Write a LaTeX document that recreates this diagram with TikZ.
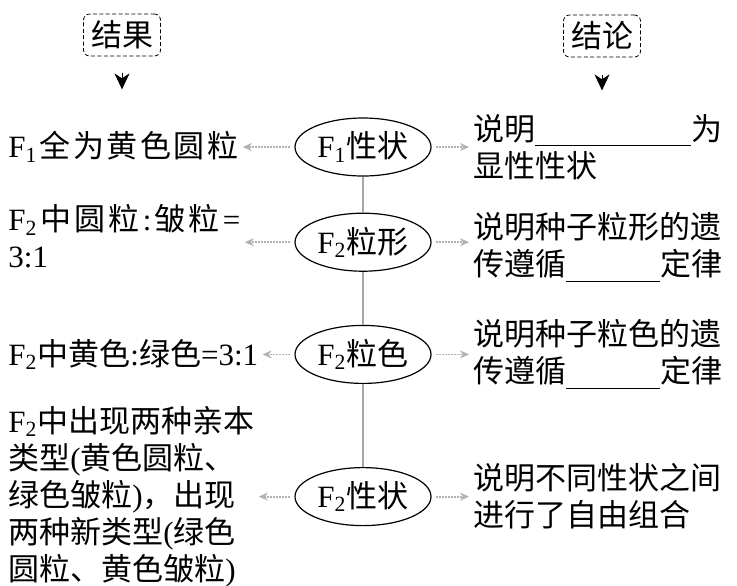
\documentclass[tikz,border=0pt]{standalone}
\usepackage{fontspec}
\newfontfamily\cjk{Noto Sans CJK SC}
\newfontfamily\latin{Liberation Serif}
\usepackage{tikz}
\usetikzlibrary{shapes.geometric, arrows.meta, positioning}
\newcommand{\lt}[1]{{\latin #1}}
\newcommand{\Fg}[1]{{\latin F\textsubscript{#1}}}
\newcommand{\blank}[1]{\rule[-3pt]{#1}{0.6pt}}

\begin{document}
\begin{tikzpicture}[x=0.5pt, y=-0.5pt,
        tag/.style={draw, dash pattern=on 2pt off 1.2pt, rounded corners=3pt, minimum width=38.5pt, minimum height=21pt, inner sep=2pt},
        trait/.style={draw, ellipse, line width=0.6pt, minimum width=68pt, minimum height=29pt, inner sep=0pt},
        result/.style={anchor=west, align=left, inner sep=0pt},
        note/.style={anchor=west, align=left, inner sep=0pt},
        link/.style={gray!60, line width=0.9pt, dash pattern=on 1pt off 0.5pt, -{Stealth[length=4.5pt, width=4pt]}, shorten <=2pt, shorten >=2pt},
        stem/.style={gray!70, line width=0.6pt},
        pointer/.style={-{Stealth[length=8pt, width=7.5pt, inset=2.5pt]}},
        font=\cjk\fontsize{15.5pt}{18.5pt}\selectfont
    ]
        \useasboundingbox (0,0) rectangle (737,585);
        \coordinate (lx) at (8,0);
        \coordinate (rx) at (473,0);

        \node[tag] (res) at (122,35) {结果};
        \node[tag] (con) at (602,36) {结论};
        \coordinate[below=8.5pt of res.south] (resA);
        \coordinate[below=8pt of resA] (resB);
        \coordinate[below=9pt of con.south] (conA);
        \coordinate[below=7.5pt of conA] (conB);
        \draw[pointer] (resA) -- (resB);
        \draw[pointer] (conA) -- (conB);

        \node[trait] (f1) at (363,147) {\Fg{1}性状};
        \node[trait, below=18pt of f1] (f2shape) {\Fg{2}粒形};
        \node[trait, below=26.5pt of f2shape] (f2color) {\Fg{2}粒色};
        \node[trait, below=41.5pt of f2color] (f2trait) {\Fg{2}性状};

        \node[result] (r1) at (lx |- f1) {\makebox[115pt]{\Fg{1}\hfill 全\hfill 为\hfill 黄\hfill 色\hfill 圆\hfill 粒}};
        \node[result, yshift=3pt] (r2) at (lx |- f2shape) {\makebox[116pt]{\Fg{2}\hfill 中\hfill 圆\hfill 粒\hfill\lt{:}\hfill 皱\hfill 粒\hfill\lt{=}}\\\lt{3:1}};
        \node[result] (r3) at (lx |- f2color) {\Fg{2}中黄色\lt{:}绿色\lt{=3:1}};
        \node[result] (r4) at (lx |- f2trait) {\Fg{2}中出现两种亲本\\类型\lt{(}黄色圆粒、\\绿色皱粒\lt{)}，出现\\两种新类型\lt{(}绿色\\圆粒、黄色皱粒\lt{)}};

        \node[note] (c1) at (rx |- f1) {说明\blank{78pt}为\\显性性状};
        \node[note, yshift=-2.5pt] (c2) at (rx |- f2shape) {说明种子粒形的遗\\传遵循\blank{47pt}定律};
        \node[note] (c3) at (rx |- f2color) {说明种子粒色的遗\\传遵循\blank{47pt}定律};
        \node[note] (c4) at (rx |- f2trait) {说明不同性状之间\\进行了自由组合};

        \draw[stem] (f1) -- (f2shape);
        \draw[stem] (f2shape) -- (f2color);
        \draw[stem] (f2color) -- (f2trait);

        \draw[link] (f1) -- (r1);
        \draw[link] (f1) -- (c1);
        \draw[link] (f2shape) -- (r2.east |- f2shape);
        \draw[link] (f2shape) -- (c2.west |- f2shape);
        \draw[link] (f2color) -- (r3);
        \draw[link] (f2color) -- (c3);
        \draw[link] (f2trait) -- (r4);
        \draw[link] (f2trait) -- (c4);
    \end{tikzpicture}
\end{document}
